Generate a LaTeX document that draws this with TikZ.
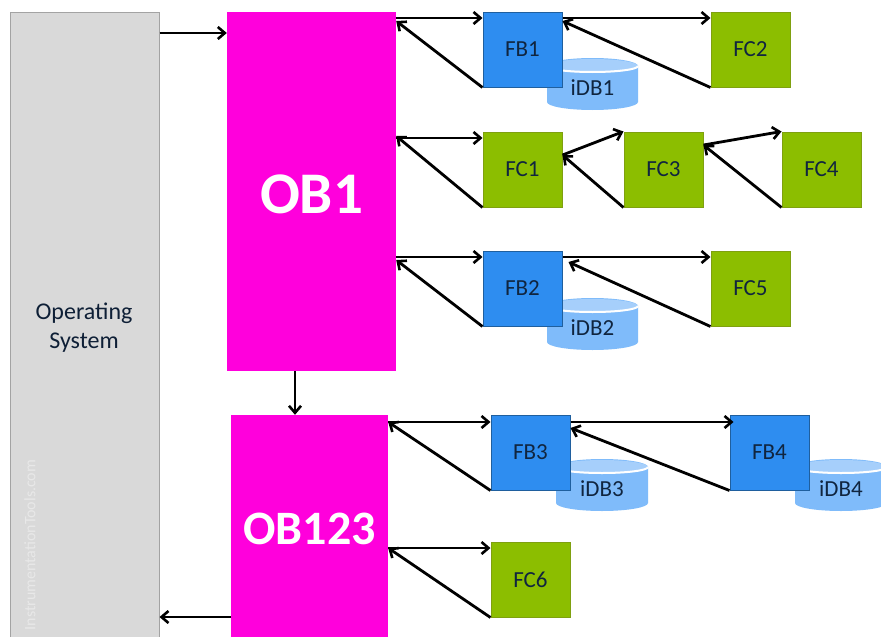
\documentclass[tikz,border=0pt]{standalone}
\usepackage{fontspec}
\setmainfont{Carlito}
\usetikzlibrary{arrows.meta}
\definecolor{osgray}{HTML}{D9D9D9}
\definecolor{osline}{HTML}{A3A3A3}
\definecolor{obpink}{HTML}{FF00DC}
\definecolor{fbblue}{HTML}{2E8DF0}
\definecolor{fbline}{HTML}{1F5F9E}
\definecolor{fcgreen}{HTML}{8CBE00}
\definecolor{fcline}{HTML}{7FA010}
\definecolor{dbblue}{HTML}{7FBBFA}
\definecolor{dbtop}{HTML}{A6CFFB}
\definecolor{ink}{HTML}{10253F}
\tikzset{
  blk/.style={draw,line width=1pt,minimum width=79pt,minimum height=75pt,inner sep=0pt,text=ink,font=\fontsize{23}{26}\selectfont},
  fbbox/.style={blk,fill=fbblue,draw=fbline},
  fcbox/.style={blk,fill=fcgreen,draw=fcline},
  obbox/.style={fill=obpink,inner sep=0pt},
  osbox/.style={fill=osgray,draw=osline,line width=1pt,inner sep=0pt},
  dbtext/.style={inner sep=0pt,text=ink,font=\fontsize{23}{26}\selectfont},
  flow/.style={draw=black,line width=2.8pt,-{Straight Barb[length=7pt,width=12pt,line width=2.6pt]}},
  dbbody/.style={fill=dbblue,draw=none},
  dbring/.style={fill=dbtop,draw=none},
  dbgap/.style={draw=white,line width=2pt},
}
% #1 name, #2 left x, #3 top y, #4 width, #5 number
\newcommand{\dbcyl}[5]{%
  \path[dbbody] (#2,#3+8) -- (#2,#3+44) arc[start angle=180,end angle=0,x radius=#4/2,y radius=8]
     -- (#2+#4,#3+8) arc[start angle=0,end angle=-180,x radius=#4/2,y radius=8] -- cycle;
  \path[dbring] (#2+#4/2,#3+8) ellipse[x radius=#4/2,y radius=7];
  \draw[dbgap] (#2,#3+8) arc[start angle=180,end angle=0,x radius=#4/2,y radius=6];
  \node[dbtext] (#1) at (#2+#4/2,#3+30) {iDB#5};
}
\begin{document}
\begin{tikzpicture}[x=1pt,y=-1pt]
\clip (0,0) rectangle (881,637);
\fill[white] (0,0) rectangle (881,637);
% cylinders lie behind the blocks
\dbcyl{dbA}{547}{58}{91}{1}
\dbcyl{dbB}{547}{298}{91}{2}
\dbcyl{dbC}{556}{459}{92}{3}
\dbcyl{dbD}{795}{459}{92}{4}
% large blocks
\node[osbox,minimum width=149pt,minimum height=645pt] (os) at (84.5,334.5) {};
\node[inner sep=0pt,text=ink!85!black,font=\fontsize{24}{29}\selectfont,align=center] (ostext) at (84,328) {Operating\\System};
\node[inner sep=0pt,rotate=90,text=white!40!osgray,font=\fontsize{16}{18}\selectfont] (mark) at (30,545) {InstrumentationTools.com};
\node[obbox,minimum width=169pt,minimum height=359pt] (ob1) at (311.5,191.5) {};
\node[inner sep=0pt,text=white,font=\bfseries\fontsize{59}{66}\selectfont] (ob1t) at (311.5,194) {OB1};
\node[obbox,minimum width=157pt,minimum height=240pt] (ob123) at (309.5,535) {};
\node[inner sep=0pt,text=white,font=\bfseries\fontsize{48}{54}\selectfont] (ob123t) at (309.5,529) {OB123};
% small blocks
\node[fbbox,text depth=-1pt] (fb1) at (522.5,49.5) {FB1};
\node[fcbox,text depth=-1pt] (fc2) at (750.5,49.5) {FC2};
\node[fcbox,text depth=-1pt] (fc1) at (522.5,169.5) {FC1};
\node[fcbox,text depth=-1pt] (fc3) at (663.5,169.5) {FC3};
\node[fcbox,text depth=-1pt] (fc4) at (821.5,169.5) {FC4};
\node[fbbox,text depth=-1pt] (fb2) at (522.5,288.5) {FB2};
\node[fcbox,text depth=-1pt] (fc5) at (750.5,288.5) {FC5};
\node[fbbox,text depth=-1pt] (fb3) at (530.5,452.5) {FB3};
\node[fbbox,text depth=-1pt] (fb4) at (769.5,452.5) {FB4};
\node[fcbox,text depth=-1pt] (fc6) at (530.5,579.5) {FC6};
% connectors
\draw[flow] (os.east |- 0,33) -- (ob1.west |- 0,33);
\draw[flow] ([xshift=-16.5pt]ob1.south) -- ([xshift=-14.5pt]ob123.north);
\draw[flow] (ob123.west |- 0,617) -- (os.east |- 0,617);
\draw[flow] (ob1.east |- 0,18) -- (fb1.west |- 0,18);
\draw[flow] (fb1.south west) -- (ob1.east |- 0,21);
\draw[flow] (fb1.east |- 0,18) -- (fc2.west |- 0,18);
\draw[flow] (fc2.south west) -- (fb1.east |- 0,21);
\draw[flow] (ob1.east |- 0,138) -- (fc1.west |- 0,138);
\draw[flow] (fc1.south west) -- (ob1.east |- 0,136);
\draw[flow] (fc1.east |- 0,155) -- (fc3.north west);
\draw[flow] (fc3.south west) -- (fc1.east |- 0,155);
\draw[flow] (fc3.east |- 0,145) -- (fc4.north west);
\draw[flow] (fc4.south west) -- (fc3.east |- 0,145);
\draw[flow] (ob1.east |- 0,257) -- (fb2.west |- 0,257);
\draw[flow] (fb2.south west) -- (ob1.east |- 0,260);
\draw[flow] (fb2.east |- 0,257) -- (fc5.west |- 0,257);
\draw[flow] (fc5.south west) -- ([xshift=6pt]fb2.east |- 0,262);
\draw[flow] (ob123.east |- 0,422) -- (fb3.west |- 0,422);
\draw[flow] (fb3.south west) -- (ob123.east |- 0,422);
\draw[flow] (fb3.east |- 0,422) -- ([xshift=4pt]fb4.west |- 0,422);
\draw[flow] (fb4.south west) -- (fb3.east |- 0,428);
\draw[flow] (fc6.south west) -- (ob123.east |- 0,548);
\draw[flow] (ob123.east |- 0,548) -- (fc6.west |- 0,548);
\end{tikzpicture}
\end{document}
